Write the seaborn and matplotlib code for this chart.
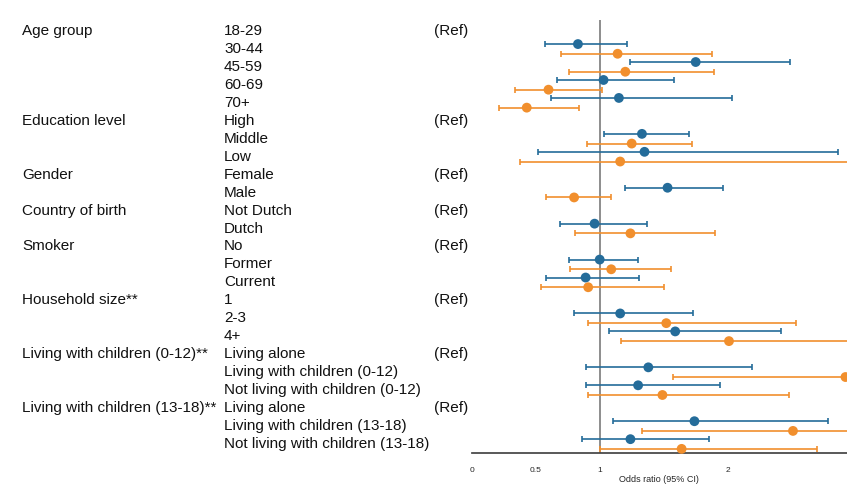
import numpy as np
import pandas as pd
import matplotlib
matplotlib.use("Agg")
import matplotlib.pyplot as plt
import matplotlib.transforms as mtransforms
import seaborn as sns

# group label shown on the first row of each block
groups = ["Age group", "", "", "", "",
          "Education level", "", "",
          "Gender", "",
          "Country of birth", "",
          "Smoker", "", "",
          "Household size**", "", "",
          "Living with children (0-12)**", "", "",
          "Living with children (13-18)**", "", ""]
categories = ["18-29", "30-44", "45-59", "60-69", "70+",
              "High", "Middle", "Low",
              "Female", "Male",
              "Not Dutch", "Dutch",
              "No", "Former", "Current",
              "1", "2-3", "4+",
              "Living alone", "Living with children (0-12)", "Not living with children (0-12)",
              "Living alone", "Living with children (13-18)", "Not living with children (13-18)"]
is_ref = [1, 0, 0, 0, 0, 1, 0, 0, 1, 0, 1, 0, 1, 0, 0, 1, 0, 0, 1, 0, 0, 1, 0, 0]

# blue series (odds ratio, lower, upper); nan for reference rows
or_blue = [np.nan, 0.83, 1.75, 1.03, 1.15, np.nan, 1.33, 1.35, np.nan, 1.53, np.nan, 0.96,
           np.nan, 1.00, 0.89, np.nan, 1.16, 1.59, np.nan, 1.38, 1.30, np.nan, 1.74, 1.24]
lo_blue = [np.nan, 0.57, 1.24, 0.67, 0.62, np.nan, 1.03, 0.52, np.nan, 1.20, np.nan, 0.69,
           np.nan, 0.76, 0.58, np.nan, 0.80, 1.07, np.nan, 0.89, 0.89, np.nan, 1.10, 0.86]
hi_blue = [np.nan, 1.21, 2.49, 1.58, 2.03, np.nan, 1.70, 2.86, np.nan, 1.96, np.nan, 1.37,
           np.nan, 1.30, 1.31, np.nan, 1.73, 2.42, np.nan, 2.19, 1.94, np.nan, 2.78, 1.85]

# orange series
or_orange = [np.nan, 1.14, 1.20, 0.60, 0.43, np.nan, 1.25, 1.16, np.nan, 0.80, np.nan, 1.24,
             np.nan, 1.09, 0.91, np.nan, 1.52, 2.01, np.nan, 2.92, 1.49, np.nan, 2.51, 1.64]
lo_orange = [np.nan, 0.70, 0.76, 0.34, 0.21, np.nan, 0.90, 0.38, np.nan, 0.58, np.nan, 0.81,
             np.nan, 0.77, 0.54, np.nan, 0.91, 1.17, np.nan, 1.57, 0.91, np.nan, 1.33, 1.00]
hi_orange = [np.nan, 1.88, 1.89, 1.02, 0.84, np.nan, 1.72, 3.20, np.nan, 1.09, np.nan, 1.90,
             np.nan, 1.56, 1.50, np.nan, 2.53, 3.20, np.nan, 3.30, 2.48, np.nan, 3.20, 2.70]

BLUE = "#246c9a"
ORANGE = "#f18f2d"

sns.set_theme(style="white")
plt.rcParams['font.family'] = ['Liberation Sans', 'DejaVu Sans']

rows = np.arange(len(categories))
df = pd.DataFrame({
    "row": np.concatenate([rows - 0.27, rows + 0.27]),
    "OR": np.concatenate([or_blue, or_orange]),
    "lo": np.concatenate([lo_blue, lo_orange]),
    "hi": np.concatenate([hi_blue, hi_orange]),
    "series": ["blue"] * len(rows) + ["orange"] * len(rows),
}).dropna()

fig = plt.figure(figsize=(8.47, 5.01), dpi=100)
ax = fig.add_axes([471.7 / 847, 1 - 453 / 501, 1 - 471.7 / 847, (453 - 20) / 501])

# confidence intervals
for s, col in [("blue", BLUE), ("orange", ORANGE)]:
    d = df[df.series == s]
    ax.errorbar(d.OR, d.row, xerr=[d.OR - d.lo, d.hi - d.OR], fmt="none",
                ecolor=col, elinewidth=1.2, capsize=2.5, capthick=1.2, zorder=2)

sns.scatterplot(data=df, x="OR", y="row", hue="series",
                palette={"blue": BLUE, "orange": ORANGE},
                s=50, edgecolor="none", legend=False, ax=ax, zorder=3, clip_on=False)

ax.axvline(1, color="#7a7a7a", lw=1.2, zorder=1)

ax.set_xlim(0, 2.932)
ax.set_ylim(23.5, -0.61)
ax.set_yticks([])
ax.set_xticks([0, 0.5, 1, 2])
ax.set_xticklabels(["0", "0.5", "1", "2"], fontsize=6)
ax.set_xlabel("Odds ratio (95% CI)", fontsize=6.5, labelpad=1)
ax.set_ylabel("")
for sp in ["top", "right", "left"]:
    ax.spines[sp].set_visible(False)
ax.spines["bottom"].set_color("#444444")
ax.tick_params(axis="x", direction="out", length=4, width=1, color="#444444", pad=6)

# text columns on the left
tr = mtransforms.blended_transform_factory(fig.transFigure, ax.transData)
for i in rows:
    if groups[i]:
        ax.text(22 / 847, i, groups[i], transform=tr, ha="left", va="center",
                fontsize=11, color="#111111", clip_on=False)
    ax.text(224 / 847, i, categories[i], transform=tr, ha="left", va="center",
            fontsize=11, color="#111111", clip_on=False)
    if is_ref[i]:
        ax.text(434 / 847, i, "(Ref)", transform=tr, ha="left", va="center",
                fontsize=11, color="#111111", clip_on=False)

fig.savefig("out.png", dpi=100)
